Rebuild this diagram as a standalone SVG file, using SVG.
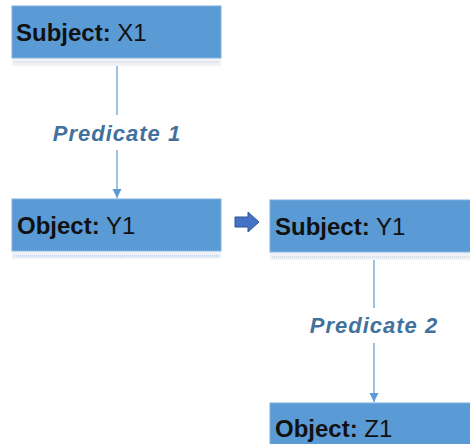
<svg xmlns="http://www.w3.org/2000/svg" width="470" height="444" viewBox="0 0 470 444">
<style>
.box{fill:#5b9bd5;stroke:#7fb0e0;stroke-width:1}
.band{fill:#f0f2f5}
.dot{stroke:#b9c6d6;stroke-width:1;stroke-dasharray:1 1}
.t{font-family:"Liberation Sans",Arial,sans-serif;font-size:24px;fill:#111}
.b{font-weight:bold}
.conn{stroke:#6a9fd4;stroke-width:1.3;fill:none}
.lbl{font-family:"Liberation Sans",Arial,sans-serif;font-size:22px;font-weight:bold;font-style:italic;fill:#41719c;letter-spacing:1px;text-anchor:middle}
</style>
<defs>
<marker id="ah" markerWidth="10" markerHeight="10" refX="9" refY="5" orient="auto" markerUnits="userSpaceOnUse">
<path d="M0,0.5 L9,5 L0,9.5 z" fill="#5b9bd5"/>
</marker>
</defs>
<rect width="470" height="444" fill="#fff"/>
<g id="connectors">
<line class="conn" x1="117" y1="66" x2="117" y2="115"/>
<line class="conn" x1="117" y1="150" x2="117" y2="198" marker-end="url(#ah)"/>
<text class="lbl" x="117" y="141">Predicate 1</text>
<line class="conn" x1="374" y1="259" x2="374" y2="308"/>
<line class="conn" x1="374" y1="343" x2="374" y2="402" marker-end="url(#ah)"/>
<text class="lbl" x="374" y="333">Predicate 2</text>
</g>
<g id="subject-x1">
<rect class="band" x="12" y="59" width="209" height="7"/>
<line class="dot" x1="14" y1="62" x2="219" y2="62"/>
<rect class="box" x="12" y="6" width="209" height="52"/>
<text class="t" x="16" y="41"><tspan class="b">Subject:</tspan> X1</text>
</g>
<g id="object-y1">
<rect class="band" x="12" y="252" width="209" height="7"/>
<line class="dot" x1="14" y1="256" x2="219" y2="256" style="stroke:#8fb3dc"/>
<rect class="box" x="12" y="199" width="209" height="52"/>
<text class="t" x="17" y="234"><tspan class="b">Object:</tspan> Y1</text>
</g>
<g id="transition-arrow">
<path d="M235,217 L248,217 L248,212 L259,222 L248,232 L248,227 L235,227 z" fill="#4472c4" stroke="#2f5597" stroke-width="1"/>
</g>
<g id="subject-y1">
<rect class="band" x="270" y="253" width="200" height="7"/>
<line class="dot" x1="272" y1="257" x2="470" y2="257"/>
<rect class="box" x="270" y="200" width="201" height="52"/>
<text class="t" x="275" y="235"><tspan class="b">Subject:</tspan> Y1</text>
</g>
<g id="object-z1">
<rect class="box" x="270" y="403" width="201" height="42"/>
<text class="t" x="275" y="437"><tspan class="b">Object:</tspan> Z1</text>
</g>
</svg>
